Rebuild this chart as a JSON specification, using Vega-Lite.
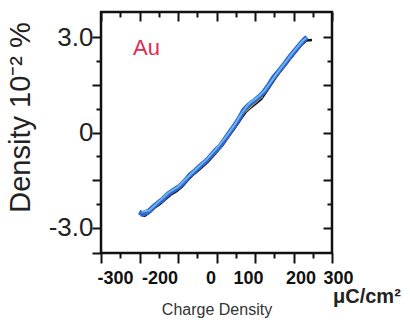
{
  "$schema": "https://vega.github.io/schema/vega-lite/v6.json",
  "width": 231,
  "height": 241,
  "autosize": {"type": "none"},
  "padding": {"left": 101, "top": 12, "right": 78, "bottom": 72},
  "background": "white",
  "config": {
    "font": "Liberation Sans",
    "view": {"stroke": "#111", "strokeWidth": 2.5}
  },
  "data": {
    "values": [
      {"s": "black", "x": -197, "y": -2.60}, {"s": "black", "x": -186, "y": -2.62}, {"s": "black", "x": -172, "y": -2.50}, {"s": "black", "x": -160, "y": -2.36}, {"s": "black", "x": -146, "y": -2.25}, {"s": "black", "x": -133, "y": -2.11}, {"s": "black", "x": -120, "y": -1.97}, {"s": "black", "x": -104, "y": -1.85}, {"s": "black", "x": -90, "y": -1.71}, {"s": "black", "x": -76, "y": -1.52}, {"s": "black", "x": -63, "y": -1.35}, {"s": "black", "x": -50, "y": -1.22}, {"s": "black", "x": -37, "y": -1.08}, {"s": "black", "x": -24, "y": -0.94}, {"s": "black", "x": -11, "y": -0.77}, {"s": "black", "x": 2, "y": -0.59}, {"s": "black", "x": 15, "y": -0.41}, {"s": "black", "x": 28, "y": -0.18}, {"s": "black", "x": 41, "y": 0.04}, {"s": "black", "x": 54, "y": 0.26}, {"s": "black", "x": 66, "y": 0.48}, {"s": "black", "x": 77, "y": 0.66}, {"s": "black", "x": 90, "y": 0.80}, {"s": "black", "x": 103, "y": 0.92}, {"s": "black", "x": 116, "y": 1.05}, {"s": "black", "x": 129, "y": 1.28}, {"s": "black", "x": 142, "y": 1.52}, {"s": "black", "x": 155, "y": 1.76}, {"s": "black", "x": 168, "y": 1.96}, {"s": "black", "x": 181, "y": 2.16}, {"s": "black", "x": 194, "y": 2.37}, {"s": "black", "x": 207, "y": 2.56}, {"s": "black", "x": 220, "y": 2.76}, {"s": "black", "x": 233, "y": 2.90}, {"s": "black", "x": 248, "y": 2.92},
      {"s": "green", "x": -190, "y": -2.50}, {"s": "green", "x": -160, "y": -2.33}, {"s": "green", "x": -130, "y": -2.02}, {"s": "green", "x": -100, "y": -1.77}, {"s": "green", "x": -70, "y": -1.38}, {"s": "green", "x": -40, "y": -1.08}, {"s": "green", "x": -10, "y": -0.72}, {"s": "green", "x": 20, "y": -0.28}, {"s": "green", "x": 50, "y": 0.22}, {"s": "green", "x": 75, "y": 0.72}, {"s": "green", "x": 100, "y": 0.98}, {"s": "green", "x": 130, "y": 1.36}, {"s": "green", "x": 160, "y": 1.86}, {"s": "green", "x": 190, "y": 2.33}, {"s": "green", "x": 220, "y": 2.80},
      {"s": "yellow", "x": -20, "y": -0.85}, {"s": "yellow", "x": 10, "y": -0.48}, {"s": "yellow", "x": 40, "y": 0.05}, {"s": "yellow", "x": 70, "y": 0.60}, {"s": "yellow", "x": 95, "y": 0.88}, {"s": "yellow", "x": 120, "y": 1.14},
      {"s": "red", "x": 12, "y": -0.30}, {"s": "red", "x": 24, "y": -0.10},
      {"s": "blue", "x": -201, "y": -2.51}, {"s": "blue", "x": -191, "y": -2.57}, {"s": "blue", "x": -178, "y": -2.51}, {"s": "blue", "x": -165, "y": -2.35}, {"s": "blue", "x": -152, "y": -2.22}, {"s": "blue", "x": -139, "y": -2.10}, {"s": "blue", "x": -126, "y": -1.94}, {"s": "blue", "x": -110, "y": -1.81}, {"s": "blue", "x": -95, "y": -1.69}, {"s": "blue", "x": -82, "y": -1.53}, {"s": "blue", "x": -69, "y": -1.34}, {"s": "blue", "x": -56, "y": -1.21}, {"s": "blue", "x": -43, "y": -1.06}, {"s": "blue", "x": -30, "y": -0.93}, {"s": "blue", "x": -17, "y": -0.77}, {"s": "blue", "x": -4, "y": -0.58}, {"s": "blue", "x": 9, "y": -0.43}, {"s": "blue", "x": 22, "y": -0.21}, {"s": "blue", "x": 35, "y": 0.02}, {"s": "blue", "x": 48, "y": 0.24}, {"s": "blue", "x": 61, "y": 0.49}, {"s": "blue", "x": 71, "y": 0.71}, {"s": "blue", "x": 84, "y": 0.87}, {"s": "blue", "x": 97, "y": 0.99}, {"s": "blue", "x": 110, "y": 1.12}, {"s": "blue", "x": 123, "y": 1.28}, {"s": "blue", "x": 136, "y": 1.50}, {"s": "blue", "x": 149, "y": 1.75}, {"s": "blue", "x": 162, "y": 1.94}, {"s": "blue", "x": 175, "y": 2.13}, {"s": "blue", "x": 188, "y": 2.35}, {"s": "blue", "x": 201, "y": 2.54}, {"s": "blue", "x": 214, "y": 2.73}, {"s": "blue", "x": 227, "y": 2.92}, {"s": "blue", "x": 235, "y": 3.01},
      {"s": "cyan", "x": -195, "y": -2.50}, {"s": "cyan", "x": -175, "y": -2.46}, {"s": "cyan", "x": -150, "y": -2.18}, {"s": "cyan", "x": -125, "y": -1.90}, {"s": "cyan", "x": -100, "y": -1.71}, {"s": "cyan", "x": -75, "y": -1.41}, {"s": "cyan", "x": -50, "y": -1.12}, {"s": "cyan", "x": -25, "y": -0.84}, {"s": "cyan", "x": 0, "y": -0.50}, {"s": "cyan", "x": 25, "y": -0.13}, {"s": "cyan", "x": 45, "y": 0.21}, {"s": "cyan", "x": 65, "y": 0.60}, {"s": "cyan", "x": 85, "y": 0.92}, {"s": "cyan", "x": 105, "y": 1.10}, {"s": "cyan", "x": 125, "y": 1.32}, {"s": "cyan", "x": 145, "y": 1.66}, {"s": "cyan", "x": 165, "y": 2.00}, {"s": "cyan", "x": 185, "y": 2.31}, {"s": "cyan", "x": 205, "y": 2.62}, {"s": "cyan", "x": 225, "y": 2.90}, {"s": "cyan", "x": 233, "y": 2.98}
    ]
  },
  "resolve": {"axis": {"x": "independent", "y": "independent"}},
  "layer": [
    {
      "transform": [{"filter": "datum.s == 'black'"}],
      "mark": {"type": "line", "color": "#111111", "strokeWidth": 2.5},
      "encoding": {
        "x": {"field": "x", "type": "quantitative", "scale": {"domain": [-300, 300], "nice": false, "zero": false},
          "axis": {"orient": "bottom", "domain": false, "grid": false,
            "values": [-300, -250, -200, -150, -100, -50, 0, 50, 100, 150, 200, 250, 300],
            "tickColor": "#111", "tickWidth": 2,
            "tickSize": {"condition": {"test": "datum.value % 100 == 0", "value": 10}, "value": 5},
            "labelExpr": "indexof([-300, -200, 0, 100, 200, 300], datum.value) >= 0 ? ('' + datum.value) : ''",
            "labelFlush": false, "labelOverlap": false,
            "labelOffset": {"condition": [
              {"test": "datum.value == -300", "value": 14},
              {"test": "datum.value == -200", "value": 20},
              {"test": "datum.value == 0", "value": -6},
              {"test": "datum.value == 100", "value": -7},
              {"test": "datum.value == 200", "value": 7}
            ], "value": 6},
            "labelFontSize": 18, "labelFontWeight": "bold", "labelColor": "#111", "labelPadding": 6,
            "title": "Charge Density", "titleFontSize": 16, "titleFontWeight": "normal", "titleColor": "#333", "titlePadding": 14}},
        "y": {"field": "y", "type": "quantitative", "scale": {"domain": [-3.8, 3.8], "nice": false, "zero": false},
          "axis": {"orient": "left", "domain": false, "grid": false,
            "values": [-3.8, -3, -2.25, -1.5, -0.75, 0, 0.75, 1.5, 2.25, 3],
            "tickColor": "#111", "tickWidth": 2,
            "tickSize": {"condition": {"test": "datum.value % 1.5 == 0 || datum.value < -3.5", "value": 9}, "value": 5},
            "labelExpr": "datum.value == 3 ? '3.0' : datum.value == -3 ? '-3.0' : datum.value == 0 ? '0' : ''",
            "labelFlush": false, "labelOverlap": false,
            "labelFontSize": 26, "labelColor": "#222", "labelPadding": -1,
            "title": "Density 10⁻² %", "titleFontSize": 29, "titleFontWeight": "normal", "titleColor": "#222",
            "titleX": -66, "titleY": 105}}
      }
    },
    {
      "transform": [{"filter": "datum.s == 'green'"}],
      "mark": {"type": "line", "color": "#3e9b3a", "strokeWidth": 1.8},
      "encoding": {"x": {"field": "x", "type": "quantitative", "axis": null}, "y": {"field": "y", "type": "quantitative", "axis": null}}
    },
    {
      "transform": [{"filter": "datum.s == 'yellow'"}],
      "mark": {"type": "line", "color": "#d9c22a", "strokeWidth": 1.5},
      "encoding": {"x": {"field": "x", "type": "quantitative", "axis": null}, "y": {"field": "y", "type": "quantitative", "axis": null}}
    },
    {
      "transform": [{"filter": "datum.s == 'red'"}],
      "mark": {"type": "line", "color": "#e0405a", "strokeWidth": 1.5},
      "encoding": {"x": {"field": "x", "type": "quantitative", "axis": null}, "y": {"field": "y", "type": "quantitative", "axis": null}}
    },
    {
      "transform": [{"filter": "datum.s == 'blue'"}],
      "mark": {"type": "line", "color": "#3463d8", "strokeWidth": 5},
      "encoding": {
        "x": {"field": "x", "type": "quantitative",
          "axis": {"orient": "top", "domain": false, "grid": false, "labels": false, "title": null,
            "values": [-300, -250, -200, -150, -100, -50, 0, 50, 100, 150, 200, 250, 300],
            "tickColor": "#111", "tickWidth": 2,
            "tickSize": {"condition": {"test": "datum.value % 100 == 0", "value": -9}, "value": -5}}},
        "y": {"field": "y", "type": "quantitative",
          "axis": {"orient": "right", "domain": false, "grid": false, "labels": false, "title": null,
            "values": [-3, -2.25, -1.5, -0.75, 0, 0.75, 1.5, 2.25, 3],
            "tickColor": "#111", "tickWidth": 2,
            "tickSize": {"condition": {"test": "datum.value % 1.5 == 0", "value": -9}, "value": -5}}}
      }
    },
    {
      "transform": [{"filter": "datum.s == 'cyan'"}],
      "mark": {"type": "line", "color": "#66b8ea", "strokeWidth": 2},
      "encoding": {"x": {"field": "x", "type": "quantitative", "axis": null}, "y": {"field": "y", "type": "quantitative", "axis": null}}
    },
    {
      "data": {"values": [{"label": "Au", "x": -217, "y": 2.45}]},
      "mark": {"type": "text", "color": "#e3294f", "fontSize": 22, "align": "left", "baseline": "alphabetic"},
      "encoding": {
        "x": {"field": "x", "type": "quantitative", "axis": null},
        "y": {"field": "y", "type": "quantitative", "axis": null},
        "text": {"field": "label"}
      }
    },
    {
      "data": {"values": [{"label": "μC/cm²", "x": 300, "y": -3.8}]},
      "mark": {"type": "text", "color": "#222", "fontSize": 20, "fontWeight": "bold", "align": "left", "baseline": "alphabetic", "dx": 1, "dy": 50},
      "encoding": {
        "x": {"field": "x", "type": "quantitative", "axis": null},
        "y": {"field": "y", "type": "quantitative", "axis": null},
        "text": {"field": "label"}
      }
    }
  ]
}
